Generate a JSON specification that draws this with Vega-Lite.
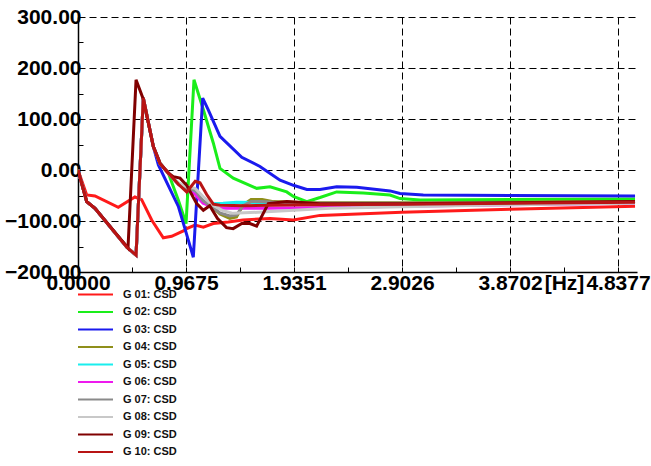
{
  "$schema": "https://vega.github.io/schema/vega-lite/v6.json",
  "autosize": "none",
  "width": 559,
  "height": 255,
  "padding": {"left": 78, "top": 17, "right": 14, "bottom": 194},
  "background": "white",
  "config": {"view": {"stroke": null}, "font": "Liberation Sans"},
  "data": {"values": [
    {"g":"G 01: CSD","x":0,"y":0},{"g":"G 01: CSD","x":0.078,"y":-49},{"g":"G 01: CSD","x":0.152,"y":-51},{"g":"G 01: CSD","x":0.361,"y":-73},{"g":"G 01: CSD","x":0.51,"y":-53},{"g":"G 01: CSD","x":0.57,"y":-58},{"g":"G 01: CSD","x":0.66,"y":-98},{"g":"G 01: CSD","x":0.764,"y":-133},{"g":"G 01: CSD","x":0.839,"y":-130},{"g":"G 01: CSD","x":0.958,"y":-118},{"g":"G 01: CSD","x":0.974,"y":-115},{"g":"G 01: CSD","x":1.048,"y":-108},{"g":"G 01: CSD","x":1.123,"y":-112},{"g":"G 01: CSD","x":1.212,"y":-105},{"g":"G 01: CSD","x":1.346,"y":-102},{"g":"G 01: CSD","x":1.478,"y":-98},{"g":"G 01: CSD","x":1.72,"y":-95},{"g":"G 01: CSD","x":1.929,"y":-98},{"g":"G 01: CSD","x":2.168,"y":-89},{"g":"G 01: CSD","x":2.9,"y":-83},{"g":"G 01: CSD","x":3.87,"y":-77},{"g":"G 01: CSD","x":4.99,"y":-71},

    {"g":"G 02: CSD","x":0,"y":0},{"g":"G 02: CSD","x":0.078,"y":-62},{"g":"G 02: CSD","x":0.152,"y":-75},{"g":"G 02: CSD","x":0.436,"y":-151},{"g":"G 02: CSD","x":0.52,"y":-167},{"g":"G 02: CSD","x":0.585,"y":141},{"g":"G 02: CSD","x":0.675,"y":46},{"g":"G 02: CSD","x":0.735,"y":13},{"g":"G 02: CSD","x":0.809,"y":-6},{"g":"G 02: CSD","x":0.9,"y":-60},{"g":"G 02: CSD","x":0.968,"y":-105},{"g":"G 02: CSD","x":1.039,"y":177},{"g":"G 02: CSD","x":1.123,"y":118},{"g":"G 02: CSD","x":1.212,"y":53},{"g":"G 02: CSD","x":1.272,"y":3},{"g":"G 02: CSD","x":1.391,"y":-16},{"g":"G 02: CSD","x":1.6,"y":-36},{"g":"G 02: CSD","x":1.72,"y":-33},{"g":"G 02: CSD","x":1.87,"y":-43},{"g":"G 02: CSD","x":1.929,"y":-52},{"g":"G 02: CSD","x":2.05,"y":-62},{"g":"G 02: CSD","x":2.168,"y":-54},{"g":"G 02: CSD","x":2.317,"y":-43},{"g":"G 02: CSD","x":2.556,"y":-45},{"g":"G 02: CSD","x":2.795,"y":-49},{"g":"G 02: CSD","x":2.885,"y":-56},{"g":"G 02: CSD","x":3.064,"y":-59},{"g":"G 02: CSD","x":3.87,"y":-58},{"g":"G 02: CSD","x":4.99,"y":-57},

    {"g":"G 03: CSD","x":0,"y":0},{"g":"G 03: CSD","x":0.078,"y":-62},{"g":"G 03: CSD","x":0.152,"y":-75},{"g":"G 03: CSD","x":0.436,"y":-151},{"g":"G 03: CSD","x":0.52,"y":-167},{"g":"G 03: CSD","x":0.585,"y":141},{"g":"G 03: CSD","x":0.675,"y":46},{"g":"G 03: CSD","x":0.72,"y":10},{"g":"G 03: CSD","x":0.9,"y":-72},{"g":"G 03: CSD","x":0.958,"y":-115},{"g":"G 03: CSD","x":1.033,"y":-171},{"g":"G 03: CSD","x":1.117,"y":141},{"g":"G 03: CSD","x":1.167,"y":118},{"g":"G 03: CSD","x":1.272,"y":66},{"g":"G 03: CSD","x":1.467,"y":25},{"g":"G 03: CSD","x":1.63,"y":7},{"g":"G 03: CSD","x":1.81,"y":-20},{"g":"G 03: CSD","x":1.93,"y":-30},{"g":"G 03: CSD","x":2.05,"y":-38},{"g":"G 03: CSD","x":2.168,"y":-38},{"g":"G 03: CSD","x":2.317,"y":-33},{"g":"G 03: CSD","x":2.497,"y":-34},{"g":"G 03: CSD","x":2.795,"y":-41},{"g":"G 03: CSD","x":2.885,"y":-46},{"g":"G 03: CSD","x":3.093,"y":-49},{"g":"G 03: CSD","x":3.87,"y":-50},{"g":"G 03: CSD","x":4.99,"y":-51},

    {"g":"G 04: CSD","x":0,"y":0},{"g":"G 04: CSD","x":0.078,"y":-62},{"g":"G 04: CSD","x":0.152,"y":-75},{"g":"G 04: CSD","x":0.436,"y":-151},{"g":"G 04: CSD","x":0.52,"y":-167},{"g":"G 04: CSD","x":0.585,"y":141},{"g":"G 04: CSD","x":0.675,"y":46},{"g":"G 04: CSD","x":0.735,"y":13},{"g":"G 04: CSD","x":0.809,"y":-6},{"g":"G 04: CSD","x":0.9,"y":-28},{"g":"G 04: CSD","x":0.974,"y":-40},{"g":"G 04: CSD","x":1.05,"y":-42},{"g":"G 04: CSD","x":1.12,"y":-62},{"g":"G 04: CSD","x":1.2,"y":-72},{"g":"G 04: CSD","x":1.272,"y":-86},{"g":"G 04: CSD","x":1.36,"y":-95},{"g":"G 04: CSD","x":1.42,"y":-92},{"g":"G 04: CSD","x":1.48,"y":-68},{"g":"G 04: CSD","x":1.55,"y":-58},{"g":"G 04: CSD","x":1.65,"y":-58},{"g":"G 04: CSD","x":1.75,"y":-62},{"g":"G 04: CSD","x":2.08,"y":-64},{"g":"G 04: CSD","x":2.9,"y":-64},{"g":"G 04: CSD","x":3.87,"y":-63},{"g":"G 04: CSD","x":4.99,"y":-62},

    {"g":"G 05: CSD","x":0,"y":0},{"g":"G 05: CSD","x":0.078,"y":-62},{"g":"G 05: CSD","x":0.152,"y":-75},{"g":"G 05: CSD","x":0.436,"y":-151},{"g":"G 05: CSD","x":0.52,"y":-167},{"g":"G 05: CSD","x":0.585,"y":141},{"g":"G 05: CSD","x":0.675,"y":46},{"g":"G 05: CSD","x":0.735,"y":13},{"g":"G 05: CSD","x":0.809,"y":-6},{"g":"G 05: CSD","x":0.9,"y":-28},{"g":"G 05: CSD","x":0.974,"y":-38},{"g":"G 05: CSD","x":1.05,"y":-45},{"g":"G 05: CSD","x":1.12,"y":-62},{"g":"G 05: CSD","x":1.18,"y":-66},{"g":"G 05: CSD","x":1.3,"y":-65},{"g":"G 05: CSD","x":1.42,"y":-63},{"g":"G 05: CSD","x":1.6,"y":-64},{"g":"G 05: CSD","x":2.08,"y":-66},{"g":"G 05: CSD","x":2.9,"y":-66},{"g":"G 05: CSD","x":3.87,"y":-65},{"g":"G 05: CSD","x":4.99,"y":-64},

    {"g":"G 06: CSD","x":0,"y":0},{"g":"G 06: CSD","x":0.078,"y":-62},{"g":"G 06: CSD","x":0.152,"y":-75},{"g":"G 06: CSD","x":0.436,"y":-151},{"g":"G 06: CSD","x":0.52,"y":-167},{"g":"G 06: CSD","x":0.585,"y":141},{"g":"G 06: CSD","x":0.675,"y":46},{"g":"G 06: CSD","x":0.735,"y":13},{"g":"G 06: CSD","x":0.809,"y":-6},{"g":"G 06: CSD","x":0.9,"y":-28},{"g":"G 06: CSD","x":0.974,"y":-38},{"g":"G 06: CSD","x":1.05,"y":-48},{"g":"G 06: CSD","x":1.12,"y":-65},{"g":"G 06: CSD","x":1.24,"y":-75},{"g":"G 06: CSD","x":1.69,"y":-75},{"g":"G 06: CSD","x":2.08,"y":-74},{"g":"G 06: CSD","x":2.9,"y":-71},{"g":"G 06: CSD","x":3.87,"y":-68},{"g":"G 06: CSD","x":4.99,"y":-65},

    {"g":"G 07: CSD","x":0,"y":0},{"g":"G 07: CSD","x":0.078,"y":-62},{"g":"G 07: CSD","x":0.152,"y":-75},{"g":"G 07: CSD","x":0.436,"y":-151},{"g":"G 07: CSD","x":0.52,"y":-167},{"g":"G 07: CSD","x":0.585,"y":141},{"g":"G 07: CSD","x":0.675,"y":46},{"g":"G 07: CSD","x":0.735,"y":13},{"g":"G 07: CSD","x":0.809,"y":-6},{"g":"G 07: CSD","x":0.9,"y":-28},{"g":"G 07: CSD","x":0.974,"y":-36},{"g":"G 07: CSD","x":1.05,"y":-40},{"g":"G 07: CSD","x":1.12,"y":-60},{"g":"G 07: CSD","x":1.2,"y":-72},{"g":"G 07: CSD","x":1.272,"y":-84},{"g":"G 07: CSD","x":1.36,"y":-90},{"g":"G 07: CSD","x":1.42,"y":-88},{"g":"G 07: CSD","x":1.48,"y":-70},{"g":"G 07: CSD","x":1.55,"y":-62},{"g":"G 07: CSD","x":1.65,"y":-62},{"g":"G 07: CSD","x":1.75,"y":-63},{"g":"G 07: CSD","x":2.08,"y":-65},{"g":"G 07: CSD","x":2.9,"y":-65},{"g":"G 07: CSD","x":3.87,"y":-64},{"g":"G 07: CSD","x":4.99,"y":-63},

    {"g":"G 08: CSD","x":0,"y":0},{"g":"G 08: CSD","x":0.078,"y":-62},{"g":"G 08: CSD","x":0.152,"y":-75},{"g":"G 08: CSD","x":0.436,"y":-151},{"g":"G 08: CSD","x":0.52,"y":-167},{"g":"G 08: CSD","x":0.585,"y":141},{"g":"G 08: CSD","x":0.675,"y":46},{"g":"G 08: CSD","x":0.735,"y":13},{"g":"G 08: CSD","x":0.809,"y":-6},{"g":"G 08: CSD","x":0.9,"y":-25},{"g":"G 08: CSD","x":0.974,"y":-33},{"g":"G 08: CSD","x":1.05,"y":-36},{"g":"G 08: CSD","x":1.12,"y":-52},{"g":"G 08: CSD","x":1.2,"y":-68},{"g":"G 08: CSD","x":1.3,"y":-80},{"g":"G 08: CSD","x":1.39,"y":-85},{"g":"G 08: CSD","x":1.69,"y":-82},{"g":"G 08: CSD","x":2.26,"y":-75},{"g":"G 08: CSD","x":2.9,"y":-72},{"g":"G 08: CSD","x":3.87,"y":-68},{"g":"G 08: CSD","x":4.99,"y":-65},

    {"g":"G 09: CSD","x":0,"y":0},{"g":"G 09: CSD","x":0.078,"y":-62},{"g":"G 09: CSD","x":0.152,"y":-75},{"g":"G 09: CSD","x":0.448,"y":-153},{"g":"G 09: CSD","x":0.52,"y":177},{"g":"G 09: CSD","x":0.585,"y":139},{"g":"G 09: CSD","x":0.675,"y":46},{"g":"G 09: CSD","x":0.735,"y":13},{"g":"G 09: CSD","x":0.809,"y":-6},{"g":"G 09: CSD","x":0.854,"y":-13},{"g":"G 09: CSD","x":0.914,"y":-16},{"g":"G 09: CSD","x":0.974,"y":-30},{"g":"G 09: CSD","x":1.063,"y":-66},{"g":"G 09: CSD","x":1.123,"y":-79},{"g":"G 09: CSD","x":1.18,"y":-70},{"g":"G 09: CSD","x":1.25,"y":-95},{"g":"G 09: CSD","x":1.33,"y":-113},{"g":"G 09: CSD","x":1.39,"y":-115},{"g":"G 09: CSD","x":1.467,"y":-105},{"g":"G 09: CSD","x":1.54,"y":-105},{"g":"G 09: CSD","x":1.6,"y":-110},{"g":"G 09: CSD","x":1.705,"y":-66},{"g":"G 09: CSD","x":1.87,"y":-62},{"g":"G 09: CSD","x":2.17,"y":-66},{"g":"G 09: CSD","x":2.9,"y":-66},{"g":"G 09: CSD","x":3.87,"y":-64},{"g":"G 09: CSD","x":4.99,"y":-62},

    {"g":"G 10: CSD","x":0,"y":0},{"g":"G 10: CSD","x":0.078,"y":-62},{"g":"G 10: CSD","x":0.152,"y":-75},{"g":"G 10: CSD","x":0.436,"y":-151},{"g":"G 10: CSD","x":0.52,"y":-167},{"g":"G 10: CSD","x":0.585,"y":141},{"g":"G 10: CSD","x":0.675,"y":46},{"g":"G 10: CSD","x":0.735,"y":13},{"g":"G 10: CSD","x":0.809,"y":-6},{"g":"G 10: CSD","x":0.9,"y":-28},{"g":"G 10: CSD","x":0.974,"y":-43},{"g":"G 10: CSD","x":1.05,"y":-22},{"g":"G 10: CSD","x":1.093,"y":-25},{"g":"G 10: CSD","x":1.153,"y":-48},{"g":"G 10: CSD","x":1.212,"y":-67},{"g":"G 10: CSD","x":1.272,"y":-69},{"g":"G 10: CSD","x":1.5,"y":-70},{"g":"G 10: CSD","x":2.08,"y":-68},{"g":"G 10: CSD","x":2.9,"y":-67},{"g":"G 10: CSD","x":3.87,"y":-65},{"g":"G 10: CSD","x":4.99,"y":-63}
  ]},
  "mark": {"type": "line", "strokeWidth": 3, "clip": true},
  "encoding": {
    "x": {
      "field": "x", "type": "quantitative",
      "scale": {"domain": [0, 5.0076], "nice": false, "zero": false},
      "axis": {
        "values": [0, 0.48375, 0.9675, 1.45128, 1.9351, 2.41885, 2.9026, 3.3864, 3.8702, 4.35395, 4.8377],
        "labelExpr": "indexof([0,0.9675,1.9351,2.9026,3.8702,4.8377], datum.value) >= 0 ? format(datum.value, '.4f') : ''",
        "labelFont": "Liberation Sans", "labelFontWeight": "bold", "labelFontSize": 21, "labelColor": "black",
        "labelPadding": 5, "labelOverlap": false, "labelFlush": false,
        "domainColor": "black", "domainWidth": 1.5,
        "tickColor": "black", "tickSize": -5, "tickWidth": 1,
        "grid": true, "gridColor": "black", "gridDash": [7, 4], "gridWidth": 1,
        "gridOpacity": {"condition": {"test": "indexof([0.9675,1.9351,2.9026,3.8702,4.8377], datum.value) < 0", "value": 0}, "value": 1},
        "title": "[Hz]", "titleFont": "Liberation Sans", "titleFontWeight": "bold", "titleFontSize": 21, "titleColor": "black",
        "titleX": 486, "titleY": 0, "titleAlign": "center", "titleBaseline": "top", "titleAnchor": null
      }
    },
    "y": {
      "field": "y", "type": "quantitative",
      "scale": {"domain": [-200, 300], "nice": false, "zero": false},
      "axis": {
        "values": [-200, -150, -100, -50, 0, 50, 100, 150, 200, 250, 300],
        "labelExpr": "datum.value % 100 == 0 ? format(datum.value, '.2f') : ''",
        "labelFont": "Liberation Sans", "labelFontWeight": "bold", "labelFontSize": 21, "labelColor": "black",
        "labelPadding": 2, "labelOverlap": false, "labelFlush": false,
        "domainColor": "black", "domainWidth": 1.5,
        "tickColor": "black", "tickSize": -5, "tickWidth": 1,
        "grid": true, "gridColor": "black", "gridDash": [7, 4], "gridWidth": 1,
        "gridOpacity": {"condition": {"test": "datum.value % 100 != 0 || datum.value == -200", "value": 0}, "value": 1},
        "title": null
      }
    },
    "color": {
      "field": "g", "type": "nominal",
      "scale": {
        "domain": ["G 01: CSD","G 02: CSD","G 03: CSD","G 04: CSD","G 05: CSD","G 06: CSD","G 07: CSD","G 08: CSD","G 09: CSD","G 10: CSD"],
        "range": ["#ff1a1a","#1aee1a","#1a1aee","#8f8f1a","#1aeeee","#ee1aee","#8a8a8a","#c8c8c8","#800000","#b81414"]
      },
      "legend": {
        "orient": "none", "legendX": 12, "legendY": 272, "direction": "vertical",
        "title": null, "padding": 0,
        "symbolType": "M-5,0L5,0", "symbolSize": 49, "symbolStrokeWidth": 2,
        "labelFont": "Liberation Sans", "labelFontWeight": "bold", "labelFontSize": 11, "labelColor": "#111",
        "labelOffset": 22, "rowPadding": 5.5
      }
    }
  }
}
